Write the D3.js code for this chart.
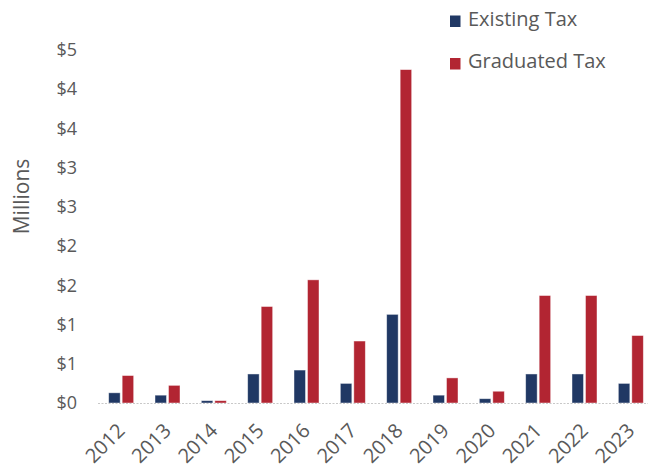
<!DOCTYPE html>
<html>
<head>
<meta charset="utf-8">
<script src="https://cdn.jsdelivr.net/npm/d3@7/dist/d3.min.js"></script>
<style>
  html, body { margin: 0; padding: 0; background: #fff; }
  svg { display: block; font-family: "Open Sans", "Noto Sans", sans-serif; }
</style>
</head>
<body>
<svg id="chart" width="648" height="469"></svg>
<script>
// Annual revenue, in millions of dollars
const years = ["2012","2013","2014","2015","2016","2017","2018","2019","2020","2021","2022","2023"];
const existingTax  = [0.13, 0.10, 0.03, 0.37, 0.42, 0.25, 1.13, 0.10, 0.055, 0.37, 0.37, 0.25];
const graduatedTax = [0.35, 0.225, 0.03, 1.23, 1.57, 0.79, 4.25, 0.32, 0.15, 1.37, 1.37, 0.86];
const seriesNames = ["Existing Tax", "Graduated Tax"];
const seriesColors = ["#203864", "#b22532"];
const yTicks = [0, 0.5, 1, 1.5, 2, 2.5, 3, 3.5, 4, 4.5];
const yTickLabels = ["$0","$1","$1","$2","$2","$3","$3","$4","$4","$5"];

const svg = d3.select("#chart");
const textColor = "#595959";

const x = d3.scaleBand().domain(years).range([98, 654]).paddingInner(0).paddingOuter(0);
const y = d3.scaleLinear().domain([0, 4.5]).range([403, 50]);

const barW = 11.5, gap = 2;
const series = [existingTax, graduatedTax];

// Bars
series.forEach((vals, si) => {
  svg.append("g").selectAll("rect")
    .data(vals.map((v, i) => ({ year: years[i], v })))
    .join("rect")
    .attr("x", d => x(d.year) + x.bandwidth() / 2 + (si === 0 ? -(barW + gap / 2) : gap / 2))
    .attr("y", d => y(d.v))
    .attr("width", barW)
    .attr("height", d => y(0) - y(d.v))
    .attr("fill", seriesColors[si])
    .attr("stroke", "rgba(255,255,255,0.55)")
    .attr("stroke-width", 0.8);
});

// Baseline
svg.append("line")
  .attr("x1", 98).attr("x2", 654)
  .attr("y1", y(0) + 0.5).attr("y2", y(0) + 0.5)
  .attr("stroke", "#c8c8c8").attr("stroke-width", 1.2)
  .attr("stroke-dasharray", "2,1.5");

// Y axis labels
const yAxis = d3.axisLeft(y).tickValues(yTicks)
  .tickFormat((d, i) => yTickLabels[i]).tickSize(0).tickPadding(0);
const gy = svg.append("g").attr("transform", "translate(77,0)").call(yAxis);
gy.select(".domain").remove();
gy.selectAll("text").attr("fill", textColor).style("font-size", "18px")
  .style("font-family", "'Open Sans', sans-serif");

// X axis labels, rotated
const xAxis = d3.axisBottom(x).tickSize(0).tickPadding(0);
const gx = svg.append("g").attr("transform", "translate(0,403)").call(xAxis);
gx.select(".domain").remove();
gx.selectAll("text")
  .attr("fill", textColor).style("font-size", "20px")
  .style("font-family", "'Open Sans', sans-serif")
  .attr("text-anchor", "end")
  .attr("dy", "0.35em")
  .attr("transform", "translate(0,24) rotate(-45)");

// Y axis title
svg.append("text")
  .attr("transform", "translate(28.5,196.5) rotate(-90)")
  .attr("text-anchor", "middle")
  .attr("fill", textColor)
  .style("font-size", "21px")
  .text("Millions");

// Legend
const legend = svg.append("g");
seriesNames.forEach((name, i) => {
  const cy = 18.5 + i * 42.5;
  legend.append("rect")
    .attr("x", 450).attr("y", cy - 3)
    .attr("width", 10.5).attr("height", 11.5)
    .attr("fill", seriesColors[i]);
  legend.append("text")
    .attr("x", 468).attr("y", cy)
    .attr("dy", "0.36em")
    .attr("fill", textColor)
    .style("font-size", "20px")
    .text(name);
});
</script>
</body>
</html>
